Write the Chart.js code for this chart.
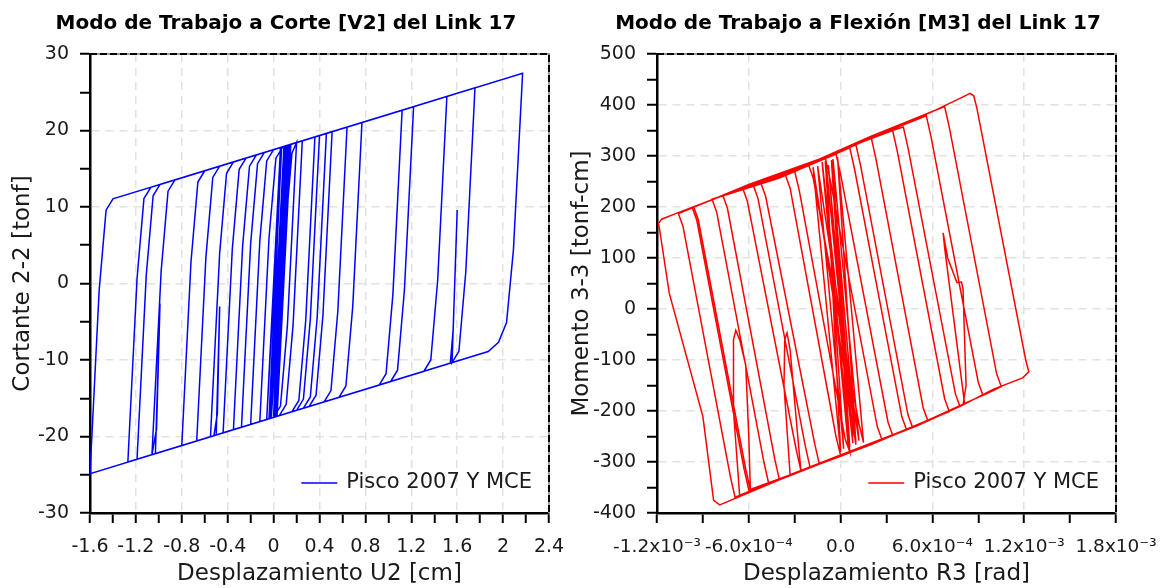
<!DOCTYPE html>
<html>
<head>
<meta charset="utf-8">
<script src="https://cdn.jsdelivr.net/npm/chart.js@4.4.1/dist/chart.umd.min.js"></script>
<style>
html,body{margin:0;padding:0;background:#fff;}
#wrap{position:relative;width:1161px;height:588px;overflow:hidden;background:#fff;}
#c1{position:absolute;left:0;top:0;width:565px;height:588px;}
#c2{position:absolute;left:565px;top:0;width:596px;height:588px;}
</style>
</head>
<body>
<div id="wrap">
<canvas id="c1" width="565" height="588"></canvas>
<canvas id="c2" width="596" height="588"></canvas>
</div>
<script>
// ---------- DATA: Shear (V2) vs displacement (U2) ----------
const shearDisp = [
0, 0.06, -0.06, 0.07, -0.04, 0.10, -0.02, 0.12, 0.00, 0.08, 0.02, 0.15, 0.03, 0.14, 0.02,
0.10, 0.16, 0.20,
0.12, 0.06, 0.00, -0.12,
-0.04, 0.02, 0.08, 0.25,
0.17, 0.11, 0.05, -0.20,
-0.12, -0.06, 0.00, 0.36,
0.28, 0.22, 0.16, -0.28,
-0.20, -0.14, -0.08, 0.46,
0.38, 0.32, 0.26, -0.44,
-0.36, -0.30, -0.24, 0.64,
0.56, 0.50, 0.44, -0.50, -0.47, -0.49, -0.52, -0.67,
-0.59, -0.53, -0.47, 0.77,
0.69, 0.63, 0.57, -1.03, -0.99, -1.02, -1.06,
-0.98, -0.92, -0.86, 1.22,
1.14, 1.08, 1.02, -1.27,
-1.19, -1.13, -1.07, 1.51,
1.43, 1.37, 1.31, -1.60,
-1.52, -1.46, -1.40, 2.17,
2.09, 2.03, 1.96, 1.87, -1.19,
-1.11, -1.05, -0.99, 1.755,
1.675, 1.615, 1.555, 1.60, 1.565, 1.54, -0.80,
-0.72, -0.66, -0.60, 1.12,
1.04, 0.98, 0.92, -0.55,
-0.47, -0.41, -0.35, 0.51,
0.43, 0.37, 0.31, -0.35,
-0.27, -0.21, -0.15, 0.40,
0.32, 0.26, 0.20, -0.06,
0.06, -0.02, 0.13, 0.01, 0.11, -0.03, 0.09, 0.00, 0.10, 0.04, 0.08, 0.05
];
const shearForce = [
0, 17.78, -17.78, 17.82, -17.68, 17.96, -17.59, 18.05, -17.50, 9.0, -12.0, 18.19, -17.36, 18.14, -17.41,
6.59, 17.04, 18.42,
-5.58, -16.02, -17.50, -18.05,
5.95, 16.39, 17.87, 18.65,
-5.35, -15.79, -17.27, -18.42,
5.58, 16.02, 17.50, 19.16,
-4.84, -15.29, -16.76, -18.79,
5.21, 15.66, 17.13, 19.62,
-4.38, -14.83, -16.30, -19.52,
4.48, 14.92, 16.40, 20.44,
-3.56, -14.00, -15.48, -19.80, -3.0, -17.0, -19.89, -20.58,
3.42, 13.86, 15.34, 21.04,
-2.96, -13.40, -14.88, -22.24, -2.6, -19.0, -22.38,
1.62, 12.07, 13.54, 23.11,
-0.89, -11.33, -12.81, -23.34,
0.66, 11.10, 12.58, 24.45,
0.45, -10.00, -11.47, -24.86,
-0.86, 9.58, 11.06, 27.48,
4.40, -5.10, -7.70, -8.90, -22.97,
1.03, 11.47, 12.95, 25.57,
1.57, -8.87, -10.35, 9.60, -6.0, -10.42, -21.18,
2.82, 13.26, 14.74, 22.65,
-1.35, -11.79, -13.27, -20.03,
3.97, 14.41, 15.89, 19.85,
-4.15, -14.60, -16.07, -19.11,
4.89, 15.33, 16.81, 19.34,
-4.66, -15.10, -16.58, -17.78,
17.78, -17.59, 18.10, -17.45, 18.01, -17.64, 17.91, -17.50, 12.0, -8.0, 5.0, 0.0
];

// ---------- DATA: Moment (M3) vs rotation (R3) ----------
const rotation = [
0, -0.08e-3, 0.08e-3, -0.12e-3, 0.05e-3, -0.05e-3, 0.12e-3, -0.15e-3, 0.02e-3, -0.10e-3, 0.10e-3, -0.02e-3, 0.15e-3,
0.12e-3, -0.18e-3, -0.21e-3, 0.10e-3,
0.13e-3, 0.44e-3, 0.47e-3, 0.20e-3, -0.20e-3,
-0.23e-3, -0.54e-3, -0.57e-3, -0.20e-3, 0.20e-3, 0.41e-3,
0.44e-3, 0.75e-3, 0.78e-3, 0.40e-3, 0.00, -0.40e-3,
-0.43e-3, -0.74e-3, -0.77e-3, -0.40e-3, 0.00, 0.30e-3, 0.56e-3,
0.59e-3, 0.90e-3, 0.93e-3, 0.50e-3, 0.00, -0.60e-3,
-0.63e-3, -0.94e-3, -0.97e-3, -0.60e-3, -0.20e-3, 0.20e-3, 0.68e-3,
0.71e-3, 1.02e-3, 1.05e-3, 0.97e-3, 0.81e-3, 0.68e-3, 0.67e-3, 0.70e-3, 0.76e-3, 0.79e-3, 0.80e-3, 0.82e-3, 0.80e-3, 0.50e-3, 0.00, -0.69e-3,
-0.72e-3, -1.03e-3, -1.06e-3, -0.60e-3, 0.00, 0.60e-3, 0.80e-3, 0.846e-3, 0.87e-3, 0.89e-3, 1.21e-3, 1.23e-3, 1.19e-3, 1.00e-3, 0.80e-3, 0.40e-3, 0.00, -0.40e-3, -0.79e-3,
-0.83e-3, -0.90e-3, -1.12e-3, -1.18e-3, -1.19e-3, -1.17e-3, -1.07e-3, -0.60e-3, -0.20e-3, 0.10e-3, 0.34e-3,
0.37e-3, 0.68e-3, 0.71e-3, 0.30e-3, -0.20e-3, -0.66e-3, -0.70e-3, -0.70e-3, -0.685e-3, -0.66e-3, -0.62e-3, -0.60e-3, -0.59e-3,
-0.62e-3, -0.93e-3, -0.96e-3, -0.60e-3, -0.20e-3, 0.20e-3,
0.23e-3, 0.54e-3, 0.57e-3, 0.20e-3, -0.20e-3, -0.47e-3,
-0.50e-3, -0.81e-3, -0.84e-3, -0.40e-3, 0.06e-3,
0.09e-3, 0.40e-3, 0.43e-3, 0.00, -0.33e-3, -0.37e-3, -0.365e-3, -0.35e-3, -0.33e-3, -0.28e-3, -0.26e-3,
-0.29e-3, -0.61e-3, -0.64e-3, -0.30e-3, -0.03e-3,
0.00, 0.31e-3, 0.34e-3, 0.00, -0.14e-3,
-0.17e-3, -0.49e-3, -0.52e-3, -0.30e-3, -0.10e-3,
-0.07e-3, 0.24e-3, 0.27e-3, 0.00,
-0.03e-3, -0.33e-3, -0.36e-3, -0.30e-3,
-0.27e-3, 0.03e-3, 0.06e-3,
-0.12e-3, 0.06e-3, -0.06e-3, 0.10e-3, -0.18e-3, 0.00, -0.09e-3, 0.08e-3, -0.04e-3, 0.05e-3, 0.00
];
const moment = [
0, 282, -263, 288, -268, 294, -258, 280, -274, 290, -262, 298, -262,
-225, 258, 283, 322,
282, -207, -232, -265, -310,
-270, 217, 242, 284, 337, 357,
317, -166, -191, -240, -287, -335,
-295, 198, 223, 258, 310, 348, 379,
339, -144, -169, -228, -289, -355,
-315, 174, 199, 242, 286, 339, 397,
357, -127, -152, -164, -185, 120, 149, 100, 52, 53, 40, -150, -188, -229, -288, -369,
-329, 162, 187, 244, 309, 387, 416, 423, 418, 395, -100, -123, -135, -157, -188, -240, -287, -335, -384,
-375, -211, 31, 150, 168, 176, 188, 242, 285, 323, 350,
310, -176, -201, -252, -310, -365, -200, -60, -42, -60, -110, -250, -354,
-314, 175, 200, 243, 283, 336,
296, -194, -219, -266, -311, -342,
-302, 190, 215, 257, 316,
276, -211, -236, -286, -325, -150, -60, -47, -80, -250, -316,
-276, 212, 237, 270, 304,
264, -222, -247, -287, -303,
-263, 221, 246, 271, 296,
256, -231, -256, -287,
-250, 237, 262, 270,
232, -255, -280,
285, -270, 292, -266, 278, -280, 270, -250, 200, -150, 0
];

// ---------- tick labels ----------
const rotationTickLabels = ['-1.2x10\u207B\u00B3', '-6.0x10\u207B\u2074', '0.0', '6.0x10\u207B\u2074', '1.2x10\u207B\u00B3', '1.8x10\u207B\u00B3'];
const seriesLabel = 'Pisco 2007 Y MCE';

// ---------- helpers ----------
const FONT = "'DejaVu Sans', 'Liberation Sans', sans-serif";
function isMajor(v, step) { const r = v / step; return Math.abs(r - Math.round(r)) < 1e-6; }
function numLabel(v) { const n = Number(v.toFixed(2)); return (n === 0 ? 0 : n).toString(); }

const framePlugin = {
  id: 'frameTopRight',
  afterDraw(chart) {
    const {ctx, chartArea: a} = chart;
    ctx.save();
    ctx.lineWidth = 2;
    ctx.strokeStyle = '#9a9a9a';
    ctx.beginPath(); ctx.moveTo(a.left, a.top); ctx.lineTo(a.right, a.top); ctx.lineTo(a.right, a.bottom); ctx.stroke();
    ctx.strokeStyle = '#000';
    ctx.setLineDash([7, 3]);
    ctx.beginPath(); ctx.moveTo(a.left, a.top); ctx.lineTo(a.right, a.top); ctx.lineTo(a.right, a.bottom); ctx.stroke();
    ctx.restore();
  }
};

const innerLegend = {
  id: 'innerLegend',
  afterDatasetsDraw(chart) {
    const ds = chart.data.datasets[0];
    const {ctx, chartArea: a} = chart;
    ctx.save();
    ctx.font = '21px ' + FONT;
    const w = ctx.measureText(ds.label).width;
    const xr = a.right - 17, y = a.bottom - 30;
    ctx.fillStyle = '#1a1a1a';
    ctx.textAlign = 'right';
    ctx.textBaseline = 'middle';
    ctx.fillText(ds.label, xr, y);
    const xs = xr - w - 9;
    ctx.strokeStyle = ds.borderColor;
    ctx.lineWidth = 1.5;
    ctx.beginPath(); ctx.moveTo(xs - 36, y); ctx.lineTo(xs, y); ctx.stroke();
    ctx.restore();
  }
};

function makeChart(id, o) {
  const points = o.xs.map((x, i) => ({x: x, y: o.ys[i]}));
  return new Chart(document.getElementById(id), {
    type: 'scatter',
    data: {
      datasets: [{
        label: seriesLabel,
        data: points,
        showLine: true,
        borderColor: o.color,
        backgroundColor: o.color,
        borderWidth: 1.5,
        pointRadius: 0,
        pointHoverRadius: 0,
        tension: 0,
        fill: false
      }]
    },
    options: {
      responsive: false,
      animation: false,
      devicePixelRatio: 1,
      layout: {padding: {left: o.padL, right: o.padR, top: 0, bottom: 0}, autoPadding: false},
      plugins: {
        legend: {display: false},
        tooltip: {enabled: false},
        title: {
          display: true, text: o.title, color: '#000',
          font: {family: FONT, size: 20, weight: 'bold', lineHeight: 1.2},
          padding: {top: 12, bottom: 18}
        }
      },
      scales: {
        x: {
          type: 'linear', position: 'bottom', min: o.xMin, max: o.xMax,
          afterFit: s => { s.height = 75; s.paddingLeft = 0; s.paddingRight = 0; },
          ticks: {
            stepSize: o.xStep, autoSkip: false, maxRotation: 0, minRotation: 0,
            color: '#1a1a1a', font: {family: FONT, size: o.xTickSize}, padding: o.xTickPad,
            callback: o.xLabel
          },
          grid: {
            color: c => (c.tick && isMajor(c.tick.value - o.xMin, o.xMajor) && c.index !== 0) ? '#e2e2e2' : 'rgba(0,0,0,0)',
            lineWidth: 1.5, tickColor: '#000', tickWidth: 2, tickLength: 10
          },
          border: {display: true, color: '#000', width: 2.5, dash: [8, 6]},
          title: {display: true, text: o.xTitle, color: '#1a1a1a', font: {family: FONT, size: 23}, padding: {top: 0, bottom: 0}}
        },
        y: {
          type: 'linear', position: 'left', min: o.yMin, max: o.yMax,
          afterFit: s => { s.width = o.yW; s.paddingTop = 0; s.paddingBottom = 0; },
          ticks: {
            stepSize: o.yStep, autoSkip: false,
            color: '#1a1a1a', font: {family: FONT, size: 19}, padding: 11,
            callback: v => isMajor(v, o.yMajor) ? numLabel(v) : ''
          },
          grid: {
            color: c => (c.tick && isMajor(c.tick.value, o.yMajor) && c.tick.value !== o.yMax && c.tick.value !== o.yMin) ? '#e2e2e2' : 'rgba(0,0,0,0)',
            lineWidth: 1.5, tickColor: '#000', tickWidth: 2, tickLength: 10
          },
          border: {display: true, color: '#000', width: 2.5, dash: [8, 6]},
          title: {display: true, text: o.yTitle, color: '#1a1a1a', font: {family: FONT, size: 23}, padding: {top: o.yTitlePad, bottom: 0}}
        },
        yRight: {
          type: 'linear', position: 'right', display: true,
          afterFit: s => { s.width = o.rightW; s.paddingTop = 0; s.paddingBottom = 0; },
          grid: {display: false, drawOnChartArea: false},
          ticks: {display: false},
          border: {display: false}
        }
      }
    },
    plugins: [framePlugin, innerLegend]
  });
}

makeChart('c1', {
  xs: shearDisp, ys: shearForce, color: '#0000ff',
  title: 'Modo de Trabajo a Corte [V2] del Link 17',
  xTitle: 'Desplazamiento U2 [cm]', yTitle: 'Cortante 2-2 [tonf]',
  xMin: -1.6, xMax: 2.4, xStep: 0.2, xMajor: 0.4, xTickSize: 19, xTickPad: 13,
  xLabel: v => isMajor(v + 1.6, 0.4) ? numLabel(v) : '',
  yMin: -30, yMax: 30, yStep: 5, yMajor: 10,
  padL: 7, padR: 0, yW: 83, rightW: 16, yTitlePad: 2
});

makeChart('c2', {
  xs: rotation, ys: moment, color: '#ff0000',
  title: 'Modo de Trabajo a Flexión [M3] del Link 17',
  xTitle: 'Desplazamiento R3 [rad]', yTitle: 'Momento 3-3 [tonf-cm]',
  xMin: -1.2e-3, xMax: 1.8e-3, xStep: 3e-4, xMajor: 6e-4, xTickSize: 18.5, xTickPad: 13,
  xLabel: v => { const k = (v + 1.2e-3) / 6e-4; return isMajor(v + 1.2e-3, 6e-4) ? rotationTickLabels[Math.round(k)] : ''; },
  yMin: -400, yMax: 500, yStep: 50, yMajor: 100,
  padL: 0, padR: 10, yW: 92, rightW: 35, yTitlePad: 3
});
</script>
</body>
</html>
